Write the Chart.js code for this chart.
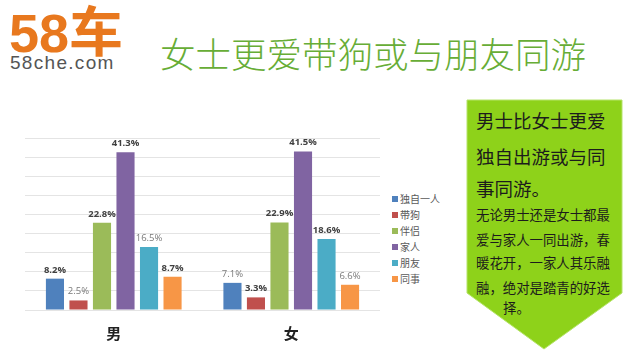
<!DOCTYPE html>
<html>
<head>
<meta charset="utf-8">
<script src="https://cdn.jsdelivr.net/npm/chart.js@4"></script>
<style>
    body { margin: 0; width: 640px; height: 360px; background: #fff; overflow: hidden; position: relative; font-family: "Noto Sans CJK SC", sans-serif; }
    .abs { position: absolute; white-space: nowrap; }
    #logo { left: 9px; top: 0px; font-weight: bold; color: #e8781e; font-size: 54px; line-height: 58px; letter-spacing: 0px; }
    #logo .num { font-family: "Liberation Sans", sans-serif; }
    #site { left: 10px; top: 52px; color: #555; font-family: "Liberation Sans", sans-serif; font-size: 19px; letter-spacing: 1.3px; }
    #title { left: 160px; top: 28px; color: #67ad36; font-size: 35.5px; font-weight: 300; line-height: 50px; }
    #chartBox { position: absolute; left: 0; top: 110px; width: 390px; height: 250px; }
    #legend { left: 392px; top: 191px; font-size: 10px; color: #595959; }
    #legend div { height: 16px; line-height: 16px; }
    #legend span { display: inline-block; width: 6px; height: 6px; margin-right: 2px; vertical-align: 1px; }
    #panel { position: absolute; left: 0; top: 0; }
    .head { font-size: 18.5px; color: #1c1c1c; left: 476px; line-height: 24px; }
    .small { font-size: 13.4px; color: #1c1c1c; left: 476px; line-height: 18px; }
</style>
</head>
<body>
<div id="logo" class="abs"><span class="num">58</span>车</div>
<div id="site" class="abs">58che.com</div>
<div id="title" class="abs">女士更爱带狗或与朋友同游</div>

<svg id="panel" width="640" height="360">
    <polygon points="467,100 622,100 622,293 544,349 467,293" fill="#8ed21a" stroke="#b5e36a" stroke-width="1"/>
</svg>
<div class="abs head" style="top:108px">男士比女士更爱</div>
<div class="abs head" style="top:144px">独自出游或与同</div>
<div class="abs head" style="top:176px">事同游。</div>
<div class="abs small" style="top:205px">无论男士还是女士都最</div>
<div class="abs small" style="top:230px">爱与家人一同出游，春</div>
<div class="abs small" style="top:253px">暖花开，一家人其乐融</div>
<div class="abs small" style="top:278px">融，绝对是踏青的好选</div>
<div class="abs small" style="top:298px; left:503px">择。</div>

<div id="chartBox"><canvas id="chart"></canvas></div>
<div id="legend" class="abs"></div>

<script>
// 데이터
const categories = ['男', '女'];
const seriesNames = ['独自一人', '带狗', '伴侣', '家人', '朋友', '同事'];
const seriesValues = [
    [8.2, 7.1],
    [2.5, 3.3],
    [22.8, 22.9],
    [41.3, 41.5],
    [16.5, 18.6],
    [8.7, 6.6]
];
const yMax = 45;
const yStep = 5;

// 스타일
const seriesColors = ['#4f81bd', '#c0504d', '#9bbb59', '#8064a2', '#4bacc6', '#f79646'];
const labelBold = [
    [true, false],
    [false, true],
    [true, true],
    [true, true],
    [false, true],
    [true, false]
];

// 값 라벨
const valueLabels = {
    id: 'valueLabels',
    afterDatasetsDraw(chart) {
        const ctx = chart.ctx;
        ctx.save();
        ctx.textAlign = 'center';
        ctx.textBaseline = 'bottom';
        chart.data.datasets.forEach((ds, i) => {
            chart.getDatasetMeta(i).data.forEach((bar, j) => {
                const bold = labelBold[i][j];
                ctx.font = (bold ? 'bold ' : '') + '9.5px "Open Sans", sans-serif';
                ctx.fillStyle = bold ? '#404040' : '#7a7a7a';
                ctx.fillText(ds.data[j].toFixed(1) + '%', bar.x, bar.y - 4);
            });
        });
        ctx.restore();
    }
};

new Chart(document.getElementById('chart'), {
    type: 'bar',
    data: {
        labels: categories,
        datasets: seriesNames.map((name, i) => ({
            label: name,
            data: seriesValues[i],
            backgroundColor: seriesColors[i],
            categoryPercentage: 0.795,
            barPercentage: 0.77
        }))
    },
    options: {
        responsive: true,
        maintainAspectRatio: false,
        animation: false,
        layout: { padding: { left: 25, right: 10, top: 28, bottom: 12 } },
        plugins: {
            legend: { display: false },
            tooltip: { enabled: false }
        },
        scales: {
            x: {
                grid: { display: false },
                border: { display: false },
                ticks: {
                    color: '#222',
                    padding: 6,
                    font: { size: 15, weight: 'bold', family: '"Noto Sans CJK SC", sans-serif' }
                }
            },
            y: {
                min: 0,
                max: yMax,
                ticks: { display: false, stepSize: yStep },
                border: { display: false },
                grid: { color: '#e4e4e4', drawTicks: false }
            }
        }
    },
    plugins: [valueLabels]
});

// 범례
const legendBox = document.getElementById('legend');
seriesNames.forEach((name, i) => {
    const row = document.createElement('div');
    row.innerHTML = `<span style="background:${seriesColors[i]}"></span>${name}`;
    legendBox.appendChild(row);
});
</script>
</body>
</html>
